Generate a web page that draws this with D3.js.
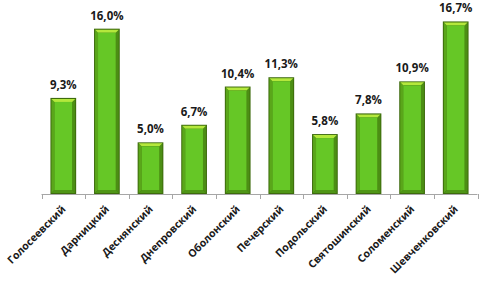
<!DOCTYPE html>
<html>
<head>
<meta charset="utf-8">
<script src="https://cdn.jsdelivr.net/npm/d3@7"></script>
<style>
  body { margin: 0; background: #fff; }
  text { font-family: "Open Sans", "DejaVu Sans", sans-serif; }
</style>
</head>
<body>
<div id="chart"></div>
<script>
const districts = ["Голосеевский", "Дарницкий", "Деснянский", "Днепровский", "Оболонский",
  "Печерский", "Подольский", "Святошинский", "Соломенский", "Шевченковский"];
const shares = [9.3, 16.0, 5.0, 6.7, 10.4, 11.3, 5.8, 7.8, 10.9, 16.7];

const width = 480, height = 285;
const margin = { top: 8, bottom: 91, left: 41.5, right: 2.5 };
const bev = 3;

const svg = d3.select("#chart").append("svg")
  .attr("width", width)
  .attr("height", height);

const xScale = d3.scaleBand()
  .domain(districts)
  .range([margin.left, width - margin.right])
  .paddingInner(0.41)
  .paddingOuter(0.205);

const yScale = d3.scaleLinear()
  .domain([0, 18])
  .range([height - margin.bottom, margin.top]);

const y0 = yScale(0);

// axis line with tick marks between categories
const axis = svg.append("g").attr("class", "x-axis");
axis.append("line")
  .attr("x1", margin.left).attr("x2", width - margin.right)
  .attr("y1", y0 + 0.5).attr("y2", y0 + 0.5)
  .attr("stroke", "#a6a6a6");
const step = xScale.step();
axis.selectAll(".tick")
  .data(d3.range(districts.length + 1))
  .join("line")
  .attr("class", "tick")
  .attr("x1", i => Math.round(margin.left + i * step) + 0.5)
  .attr("x2", i => Math.round(margin.left + i * step) + 0.5)
  .attr("y1", y0)
  .attr("y2", y0 + 5)
  .attr("stroke", "#a6a6a6");

const data = districts.map((d, i) => ({ name: d, value: shares[i] }));

const bars = svg.selectAll(".bar")
  .data(data)
  .join("g")
  .attr("class", "bar");

bars.append("rect")
  .attr("x", d => xScale(d.name))
  .attr("y", d => yScale(d.value))
  .attr("width", xScale.bandwidth())
  .attr("height", d => y0 - yScale(d.value))
  .attr("fill", "#3d6b0c");

// bevel faces
function poly(d, side) {
  const x0 = xScale(d.name) + 1, x1 = xScale(d.name) + xScale.bandwidth() - 1;
  const t = yScale(d.value) + 1, b = y0 - 1;
  if (side === "top") return [[x0, t], [x1, t], [x1 - bev, t + bev], [x0 + bev, t + bev]];
  if (side === "left") return [[x0, t], [x0 + bev, t + bev], [x0 + bev, b - bev], [x0, b]];
  if (side === "right") return [[x1, t], [x1 - bev, t + bev], [x1 - bev, b - bev], [x1, b]];
  return [[x0, b], [x0 + bev, b - bev], [x1 - bev, b - bev], [x1, b]];
}
const bevelColors = { top: "#b4e83c", left: "#5aa61a", right: "#4c8e14", bottom: "#4f9616" };
["left", "right", "bottom", "top"].forEach(side => {
  bars.append("polygon")
    .attr("points", d => poly(d, side).map(p => p.join(",")).join(" "))
    .attr("fill", bevelColors[side]);
});

bars.append("rect")
  .attr("x", d => xScale(d.name) + 1 + bev)
  .attr("y", d => yScale(d.value) + 1 + bev)
  .attr("width", xScale.bandwidth() - 2 - 2 * bev)
  .attr("height", d => Math.max(0, y0 - yScale(d.value) - 2 - 2 * bev))
  .attr("fill", "#66c726");

// value labels
svg.selectAll(".value-label")
  .data(data)
  .join("text")
  .attr("class", "value-label")
  .attr("x", d => xScale(d.name) + xScale.bandwidth() / 2)
  .attr("y", d => yScale(d.value) - 9)
  .attr("text-anchor", "middle")
  .attr("font-size", 11.5)
  .attr("font-weight", "bold")
  .attr("fill", "#1a1a1a")
  .text(d => d.value.toFixed(1).replace(".", ",") + "%");

// category labels, rotated
svg.selectAll(".cat-label")
  .data(districts)
  .join("text")
  .attr("class", "cat-label")
  .attr("transform", d => `translate(${xScale(d) + xScale.bandwidth() / 2 + 3},${y0 + 16}) rotate(-45)`)
  .attr("text-anchor", "end")
  .attr("font-size", 10.5)
  .attr("font-weight", "bold")
  .attr("fill", "#1a1a1a")
  .text(d => d);
</script>
</body>
</html>
